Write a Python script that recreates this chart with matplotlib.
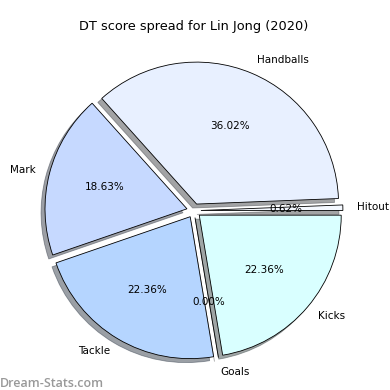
import matplotlib as mpl
mpl.use('Agg')
import matplotlib.pyplot as plt

# data
labels = ['Hitout', 'Handballs', 'Mark', 'Tackle', 'Goals', 'Kicks']
sizes = [0.62, 36.02, 18.63, 22.36, 0.00, 22.36]
colors = ['#f4f8ff', '#e8f0ff', '#c6d9ff', '#b5d5ff', '#ffffff', '#d9ffff']
explode = [0.05] * len(labels)

fig = plt.figure(figsize=(3.9, 3.9), dpi=100)
ax = fig.add_axes([0.042, 0.005, 0.91, 0.91])
ax.pie(sizes, explode=explode, labels=labels, colors=colors,
       autopct='%.2f%%', startangle=0, shadow=True,
       wedgeprops={'edgecolor': 'black', 'linewidth': 0.6},
       textprops={'fontsize': 7.5})
ax.set_aspect('equal')
ax.set_xlim(-1.25, 1.25)
ax.set_ylim(-1.25, 1.25)
ax.set_title('DT score spread for Lin Jong (2020)', fontsize=9.3, pad=2)

fig.text(0.0, 0.008, 'Dream-Stats.com', color='#999999', fontsize=9,
         family='Open Sans', fontweight='semibold')

plt.savefig('out.png')
plt.close()
